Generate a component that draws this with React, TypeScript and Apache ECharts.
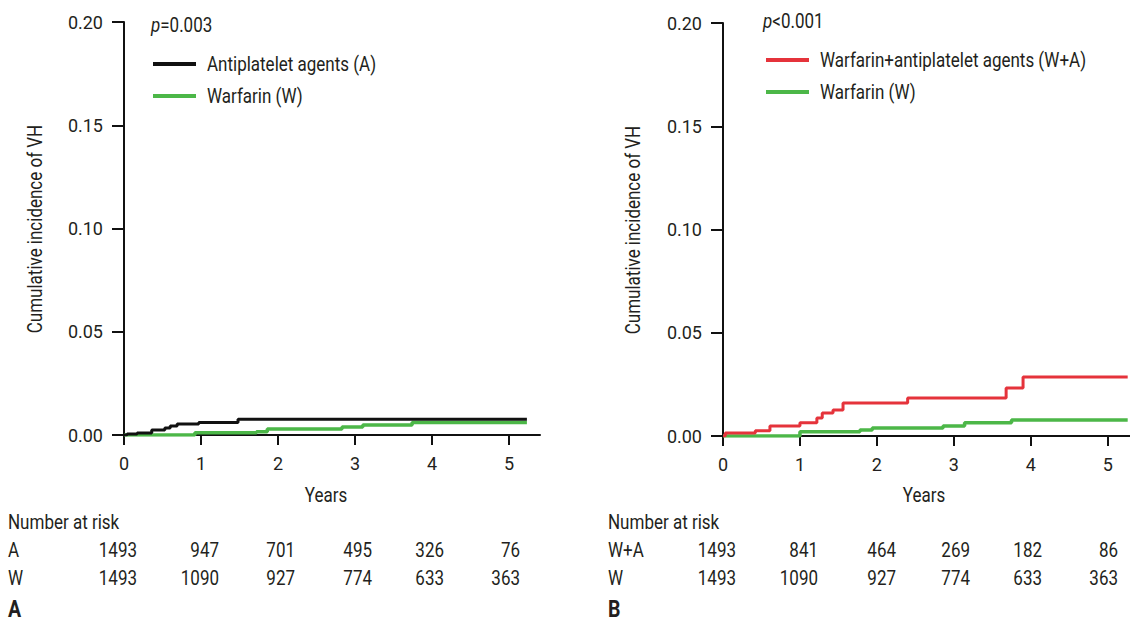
import React, { useEffect, useRef } from "react";
import * as echarts from "echarts";

// ---------- data ----------
const yearTicks = [0, 1, 2, 3, 4, 5];

// Panel A
const aTimesA = [0, 0.04, 0.17, 0.36, 0.53, 0.6, 0.69, 0.97, 1.48, 5.23];
const aIncA = [0, 0.0005, 0.001, 0.0024, 0.0034, 0.0044, 0.0053, 0.006, 0.0076, 0.0076];
const aTimesW = [0, 0.92, 1.72, 1.86, 2.83, 3.1, 3.74, 5.23];
const aIncW = [0, 0.0011, 0.0016, 0.0029, 0.0039, 0.0048, 0.006, 0.006];

// Panel B
const bTimesWA = [0, 0.03, 0.42, 0.61, 1.0, 1.22, 1.29, 1.43, 1.56, 2.4, 3.68, 3.9, 5.26];
const bIncWA = [0, 0.0014, 0.0026, 0.0048, 0.0064, 0.0087, 0.0111, 0.0126, 0.016, 0.0184, 0.0232, 0.0286, 0.0286];
const bTimesW = [0, 1.0, 1.78, 1.94, 2.86, 3.14, 3.75, 5.26];
const bIncW = [0, 0.0021, 0.0029, 0.0039, 0.0048, 0.0064, 0.0077, 0.0077];

// Number at risk
const riskA_A = [1493, 947, 701, 495, 326, 76];
const riskA_W = [1493, 1090, 927, 774, 633, 363];
const riskB_WA = [1493, 841, 464, 269, 182, 86];
const riskB_W = [1493, 1090, 927, 774, 633, 363];

const nameA = "Antiplatelet agents (A)";
const nameW = "Warfarin (W)";
const nameWA = "Warfarin+antiplatelet agents (W+A)";
const pA = "=0.003";
const pB = "<0.001";
const yTitle = "Cumulative incidence of VH";
const xTitle = "Years";

// ---------- styles ----------
const FONT = "Roboto, 'Liberation Sans', sans-serif";
const TXT = "#231f20";
const BLACK = "#111111";
const GREEN = "#4cb748";
const RED = "#e5333b";
const SX = 0.85; // condensed look

const zip = (t: number[], v: number[]) => t.map((x, i) => [x, v[i]]);

const colA = [137, 219, 295, 372, 444, 520];
const colB = [736, 818, 896, 970, 1042, 1118];

function axisPair(gridIndex: number, max: number) {
  const x = {
    type: "value",
    gridIndex,
    min: 0,
    max,
    splitLine: { show: false },
    axisLine: { show: true, lineStyle: { color: BLACK, width: 2 } },
    axisTick: { show: true, length: 10, lineStyle: { color: BLACK, width: 2 }, customValues: yearTicks },
    axisLabel: { margin: 19, fontSize: 18, fontFamily: FONT, color: TXT, customValues: yearTicks },
  };
  const y = {
    type: "value",
    gridIndex,
    min: 0,
    max: 0.2,
    interval: 0.05,
    splitLine: { show: false },
    axisLine: { show: true, lineStyle: { color: BLACK, width: 2 } },
    axisTick: { show: true, length: 12, lineStyle: { color: BLACK, width: 2 } },
    axisLabel: { margin: 21, fontSize: 18, fontFamily: FONT, color: TXT, formatter: (v: number) => v.toFixed(2) },
  };
  return { x, y };
}

function txt(text: string, x: number, y: number, opts: any = {}) {
  return {
    type: "text",
    x,
    y,
    scaleX: opts.sx ?? SX,
    rotation: opts.rot || 0,
    silent: true,
    style: {
      text,
      fontSize: 20,
      fontFamily: FONT,
      fill: TXT,
      textAlign: opts.align || "left",
      textVerticalAlign: "middle",
      fontWeight: opts.bold ? "bold" : "normal",
      ...(opts.style || {}),
    },
  };
}

function riskRows(labels: string[], rows: number[][], labelX: number, cols: number[], ys: number[]) {
  const out: any[] = [];
  rows.forEach((r, i) => {
    out.push(txt(labels[i], labelX, ys[i]));
    r.forEach((v, j) => out.push(txt(String(v), cols[j], ys[i], { align: "right" })));
  });
  return out;
}

function pText(val: string, x: number, y: number) {
  return {
    type: "text",
    x,
    y,
    scaleX: SX,
    silent: true,
    style: {
      text: "{i|p}" + val,
      fontSize: 20,
      fontFamily: FONT,
      fill: TXT,
      textVerticalAlign: "middle",
      rich: { i: { fontStyle: "italic", fontSize: 20, fontFamily: FONT, fill: TXT } },
    },
  };
}

function legendItem(label: string, color: string, x: number, y: number) {
  return [
    { type: "rect", silent: true, shape: { x, y: y - 2, width: 43, height: 4 }, style: { fill: color } },
    txt(label, x + 54, y + 1),
  ];
}

export default function App() {
  const ref = useRef<HTMLDivElement>(null);
  useEffect(() => {
    if (!ref.current) return;
    const chart = echarts.init(ref.current, null, { renderer: "svg" });
    const A = axisPair(0, 5.4);
    const B = axisPair(1, 5.29);
    const lineSeries = (name: string, xi: number, data: number[][], color: string, width: number) => ({
      type: "line",
      name,
      xAxisIndex: xi,
      yAxisIndex: xi,
      data,
      step: "end",
      showSymbol: false,
      symbol: "none",
      color,
      lineStyle: { color, width },
      z: 3,
    });
    chart.setOption({
      animation: false,
      backgroundColor: "#ffffff",
      grid: [
        { left: 124, top: 22, width: 416, height: 413 },
        { left: 723, top: 23, width: 407, height: 413 },
      ],
      xAxis: [A.x, B.x],
      yAxis: [A.y, B.y],
      series: [
        lineSeries(nameW, 0, zip(aTimesW, aIncW), GREEN, 3.5),
        lineSeries(nameA, 0, zip(aTimesA, aIncA), BLACK, 3),
        lineSeries(nameW, 1, zip(bTimesW, bIncW), GREEN, 3.5),
        lineSeries(nameWA, 1, zip(bTimesWA, bIncWA), RED, 3),
      ],
      graphic: [
        pText(pA, 151, 26),
        pText(pB, 763, 22),
        ...legendItem(nameA, BLACK, 153, 64),
        ...legendItem(nameW, GREEN, 153, 96),
        ...legendItem(nameWA, RED, 766, 60),
        ...legendItem(nameW, GREEN, 766, 92),
        txt(yTitle, 36, 229, { align: "center", rot: Math.PI / 2 }),
        txt(yTitle, 634, 230, { align: "center", rot: Math.PI / 2 }),
        txt(xTitle, 326, 496, { align: "center" }),
        txt(xTitle, 924, 496, { align: "center" }),
        txt("Number at risk", 8, 523),
        txt("Number at risk", 608, 523),
        ...riskRows(["A", "W"], [riskA_A, riskA_W], 8, colA, [551, 579]),
        ...riskRows(["W+A", "W"], [riskB_WA, riskB_W], 608, colB, [551, 579]),
        txt("A", 8, 609, { bold: true, style: { fontSize: 23 } }),
        txt("B", 608, 609, { bold: true, style: { fontSize: 23 } }),
      ],
    });
    return () => chart.dispose();
  }, []);
  return (
    <div
      ref={ref}
      style={{ position: "absolute", left: 0, top: 0, width: 1130, height: 626, background: "#fff" }}
    />
  );
}
